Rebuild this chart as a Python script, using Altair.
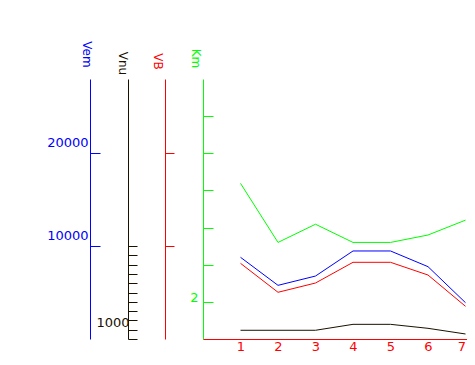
import altair as alt
import pandas as pd

FONT = "DejaVu Sans"

x_vals = [1, 2, 3, 4, 5, 6, 7]
vem = [8800, 5780, 6780, 9480, 9480, 7790, 3910]
vnu = [940, 940, 940, 1580, 1580, 1150, 540]
vb = [8150, 5030, 6030, 8260, 8260, 6890, 3520]
km = [5.19, 3.60, 4.09, 3.60, 3.60, 3.80, 4.20]

vem_ticks = [10000, 20000]
vnu_ticks = [0, 1000, 2000, 3000, 4000, 5000, 6000, 7000, 8000, 9000, 10000]
vb_ticks = [10000, 20000]
km_ticks = [2, 3, 4, 5, 6, 7]

df = pd.DataFrame({"x": x_vals, "Vem": vem, "Vnu": vnu, "VB": vb, "Km": km})

W, H = 264, 260
BLUE, BLACK, RED, GREEN = "#0000ff", "#1a1000", "#ff0000", "#00ff00"

xscale = alt.Scale(domain=[0, 7.04], nice=False, zero=False)
x_axis = alt.Axis(values=x_vals, ticks=False, grid=False, domainColor=RED,
                  domainWidth=1, labelColor=RED, labelFont=FONT, labelFontSize=13,
                  labelPadding=1, title=None, labelAngle=0, format="d",
                  labelAlign={"condition": {"test": "datum.value == 7", "value": "right"},
                              "value": "center"},
                  labelFlush=False, zindex=1)


def yaxis(color, offset, title, tx, ty, values, tick, lpad, loff, expr):
    return alt.Axis(orient="right", offset=offset, values=values, grid=False,
                    domainColor=color, tickColor=color, tickSize=tick, tickWidth=1,
                    domainWidth=1, labelColor=color, labelFont=FONT, labelFontSize=13,
                    labelAlign="right", labelPadding=lpad, labelOffset=loff,
                    labelExpr=expr, labelOverlap=False, labelFlush=False,
                    title=title, titleColor=color, titleFont=FONT, titleFontSize=12,
                    titleFontWeight="normal", titleAngle=90, titleAlign="center",
                    titleBaseline="middle", titleX=tx, titleY=ty)


vscale = alt.Scale(domain=[0, 28000], nice=False, zero=False)
kscale = alt.Scale(domain=[1, 8], nice=False, zero=False)

X = alt.X("x:Q", scale=xscale, axis=x_axis)

l_vnu = alt.Chart(df).mark_line(color=BLACK, strokeWidth=1).encode(
    x=X,
    y=alt.Y("Vnu:Q", scale=vscale,
            axis=yaxis(BLACK, 128 - 203 - W, "Vnu", -6, -16, vnu_ticks, 9, -8, -7,
                       "datum.value == 1000 ? '1000' : ''")))

l_vem = alt.Chart(df).mark_line(color=BLUE, strokeWidth=1).encode(
    x=X,
    y=alt.Y("Vem:Q", scale=vscale,
            axis=yaxis(BLUE, 90 - 203 - W, "Vem", -4, -25, vem_ticks, 10, -12, -11,
                       "format(datum.value, 'd')")))

l_vb = alt.Chart(df).mark_line(color=RED, strokeWidth=1).encode(
    x=X,
    y=alt.Y("VB:Q", scale=vscale,
            axis=yaxis(RED, 165 - 203 - W, "VB", -8, -18, vb_ticks, 9, -9, 0,
                       "''")))

l_km = alt.Chart(df).mark_line(color=GREEN, strokeWidth=1).encode(
    x=X,
    y=alt.Y("Km:Q", scale=kscale,
            axis=yaxis(GREEN, -W, "Km", -8, -21, km_ticks, 10, -15, -4,
                       "datum.value == 2 ? '2' : ''")))

chart = alt.layer(l_vnu, l_vb, l_vem, l_km).resolve_scale(y="independent").resolve_axis(
    y="independent"
).properties(
    width=W, height=H,
    autosize=alt.AutoSizeParams(type="none"),
    padding={"left": 195, "top": 71, "right": 0, "bottom": 24},
    background="white",
).configure_view(stroke=None)

chart.save("out.html", embed_options={"renderer": "svg", "actions": False})
